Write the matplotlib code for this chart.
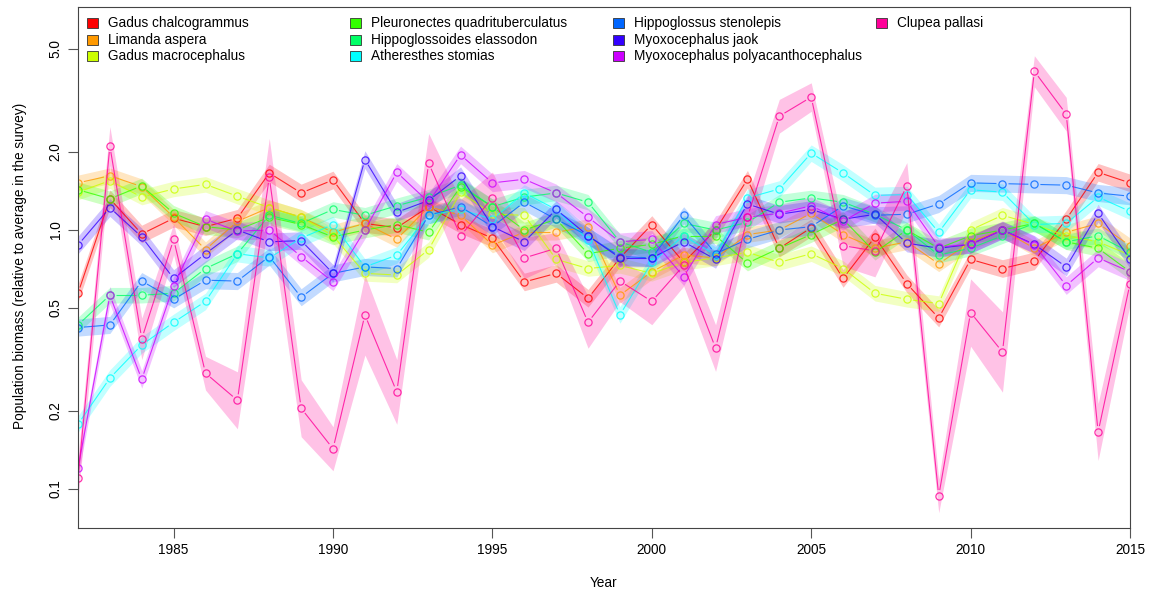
import numpy as np
import matplotlib
matplotlib.use("Agg")
import matplotlib.pyplot as plt
from matplotlib.collections import LineCollection
from matplotlib.patches import Rectangle

plt.rcParams['font.family'] = ['Liberation Sans', 'DejaVu Sans']

# survey years
years = np.arange(1982, 2016)

species = ["Gadus chalcogrammus", "Limanda aspera", "Gadus macrocephalus",
           "Pleuronectes quadrituberculatus", "Hippoglossoides elassodon", "Atheresthes stomias",
           "Hippoglossus stenolepis", "Myoxocephalus jaok", "Myoxocephalus polyacanthocephalus",
           "Clupea pallasi"]
colors = ["#FF0000", "#FF9900", "#CCFF00", "#33FF00", "#00FF66",
          "#00FFFF", "#0066FF", "#3300FF", "#CC00FF", "#FF0099"]

# relative biomass
g_chalco = [0.57, 1.32, 0.965, 1.11, 1.03, 1.11, 1.66, 1.39, 1.56, 1.06, 1.02, 1.23, 1.05, 0.93, 0.63, 0.68, 0.545,
            0.78, 1.05, 0.75, 1.0, 1.57, 0.85, 1.02, 0.65, 0.94, 0.62, 0.457, 0.77, 0.71, 0.76, 1.1, 1.67, 1.52]
l_aspera = [1.52, 1.62, 1.47, 1.12, 0.84, 1.08, 1.22, 1.12, 0.98, 1.06, 0.92, 1.23, 1.14, 0.875, 0.98, 0.98, 1.03,
            0.56, 0.69, 0.8, 0.78, 0.96, 1.0, 1.16, 0.96, 0.85, 0.9, 0.74, 0.9, 1.0, 0.85, 0.98, 1.06, 0.87]
g_macro = [1.4, 1.55, 1.34, 1.44, 1.5, 1.35, 1.22, 1.12, 0.95, 0.68, 0.67, 0.84, 1.4, 1.15, 1.14, 0.77, 0.71,
           0.73, 0.68, 0.75, 0.78, 0.82, 0.75, 0.81, 0.71, 0.57, 0.54, 0.52, 1.0, 1.14, 1.05, 0.95, 0.9, 0.8]
p_quadri = [1.43, 1.32, 1.48, 1.16, 1.03, 1.0, 1.12, 1.05, 0.94, 1.0, 1.05, 0.98, 1.47, 1.23, 1.0, 1.1, 0.81,
            0.85, 0.88, 0.95, 0.95, 0.745, 0.85, 0.96, 1.1, 0.82, 1.0, 0.85, 0.95, 1.0, 1.06, 0.9, 0.85, 0.69]
h_elasso = [0.43, 0.56, 0.56, 0.57, 0.71, 0.81, 1.14, 1.06, 1.2, 1.14, 1.24, 1.34, 1.49, 1.23, 1.34, 1.39, 1.28,
            0.9, 0.82, 1.06, 1.0, 1.07, 1.28, 1.33, 1.28, 1.15, 1.0, 0.8, 0.85, 0.95, 1.06, 0.9, 0.95, 0.82]
a_stomias = [0.178, 0.268, 0.36, 0.44, 0.53, 0.81, 0.78, 0.93, 1.05, 0.72, 0.8, 1.14, 1.2, 1.1, 1.39, 1.2, 0.915,
             0.47, 0.75, 0.95, 0.8, 1.33, 1.44, 1.98, 1.66, 1.36, 1.37, 0.98, 1.43, 1.4, 1.05, 1.06, 1.34, 1.18]
h_steno = [0.42, 0.43, 0.635, 0.54, 0.64, 0.635, 0.79, 0.55, 0.68, 0.72, 0.71, 1.14, 1.23, 1.03, 1.28, 1.1, 0.95,
           0.79, 0.78, 1.14, 0.81, 0.92, 1.0, 1.03, 1.24, 1.14, 1.15, 1.26, 1.52, 1.51, 1.5, 1.49, 1.39, 1.35]
m_jaok = [0.875, 1.22, 0.94, 0.65, 0.81, 1.0, 0.9, 0.91, 0.68, 1.87, 1.17, 1.3, 1.62, 1.03, 0.9, 1.2, 0.95,
          0.78, 0.78, 0.9, 0.77, 1.26, 1.15, 1.2, 1.1, 1.15, 0.89, 0.85, 0.88, 1.0, 0.88, 0.72, 1.16, 0.77]
m_poly = [0.12, 0.56, 0.265, 0.61, 1.1, 0.99, 1.0, 0.79, 0.63, 1.0, 1.67, 1.28, 1.95, 1.52, 1.57, 1.39, 1.12,
          0.9, 0.92, 0.66, 1.05, 1.12, 1.16, 1.24, 1.08, 1.27, 1.29, 0.86, 0.88, 1.0, 0.875, 0.61, 0.78, 0.69]
c_pallasi = [0.11, 2.11, 0.38, 0.92, 0.28, 0.22, 1.6, 0.205, 0.143, 0.47, 0.237, 1.81, 0.95, 1.33, 0.78, 0.85, 0.44,
             0.635, 0.53, 0.73, 0.35, 1.12, 2.75, 3.26, 0.87, 0.83, 1.48, 0.094, 0.48, 0.338, 4.1, 2.8, 0.166, 0.62]

# uncertainty (log10 half-width of the shaded band)
se_const = [0.034, 0.03, 0.03, 0.03, 0.03, 0.032, 0.033, 0.034, 0.034]
se_clupea = [0.08, 0.075, 0.08, 0.06, 0.065, 0.11, 0.15, 0.11, 0.085, 0.155, 0.125, 0.115, 0.14, 0.1, 0.08, 0.06,
             0.1, 0.08, 0.09, 0.08, 0.09, 0.08, 0.065, 0.055, 0.08, 0.1, 0.09, 0.065, 0.13, 0.155, 0.06, 0.065,
             0.11, 0.08]

series = [g_chalco, l_aspera, g_macro, p_quadri, h_elasso, a_stomias, h_steno, m_jaok, m_poly, c_pallasi]
ses = [[s] * len(years) for s in se_const] + [se_clupea]

W, H = 1159, 591
fig = plt.figure(figsize=(W / 100, H / 100), dpi=100)
ax = fig.add_axes([78 / W, 1 - 528 / H, (1130 - 78) / W, (528 - 7) / H])
ax.set_yscale('log')
ax.set_xlim(1982, 2015)
ax.set_ylim(0.0707, 7.26)


def gapped(ax, x, y, gap=6):
    # R type="b": segments stop short of the points
    pts = ax.transData.transform(np.column_stack([x, y]))
    inv = ax.transData.inverted()
    segs = []
    for p0, p1 in zip(pts[:-1], pts[1:]):
        d = p1 - p0
        L = np.hypot(d[0], d[1])
        if L <= 2 * gap:
            continue
        u = d / L
        segs.append(inv.transform(np.array([p0 + u * gap, p1 - u * gap])))
    return segs


# ribbons first
for vals, se, c in zip(series, ses, colors):
    v = np.array(vals)
    f = 10 ** np.array(se)
    ax.fill_between(years, v / f, v * f, color=c, alpha=0.24, linewidth=0)

for vals, c in zip(series, colors):
    lc = LineCollection(gapped(ax, years, vals), colors=c, linewidths=0.8, alpha=0.8)
    ax.add_collection(lc)
    ax.plot(years, vals, linestyle='none', marker='o', markersize=5.2, alpha=0.8,
            markerfacecolor='none', markeredgecolor=c, markeredgewidth=0.9)

ax.set_yticks([0.1, 0.2, 0.5, 1.0, 2.0, 5.0])
ax.set_yticklabels(["0.1", "0.2", "0.5", "1.0", "2.0", "5.0"], rotation=90, va='center')
ax.yaxis.set_minor_locator(matplotlib.ticker.NullLocator())
ax.set_xticks([1985, 1990, 1995, 2000, 2005, 2010, 2015])
ax.tick_params(length=7, width=0.8, color='#555555', labelsize=9.8, pad=4)
for s in ax.spines.values():
    s.set_color('#444444')
    s.set_linewidth(0.8)

fig.text(604 / W, 1 - 583 / H, "Year", ha='center', va='center', fontsize=9.8)
fig.text(20 / W, 1 - 266 / H, "Population biomass (relative to average in the survey)",
         rotation=90, ha='center', va='center', fontsize=9.8)

# legend, four columns like the original
col_x = [87, 350, 613, 876]
row_y = [23, 40, 56]
for i, (name, c) in enumerate(zip(species, colors)):
    cx = col_x[i // 3]
    cy = row_y[i % 3]
    fig.patches.append(Rectangle((cx / W, 1 - (cy + 4.5) / H), 11 / W, 9 / H,
                                 transform=fig.transFigure, facecolor=c,
                                 edgecolor='#333333', linewidth=0.6))
    fig.text((cx + 21) / W, 1 - cy / H, name, ha='left', va='center', fontsize=9.8)

fig.savefig("out.png", dpi=100)
